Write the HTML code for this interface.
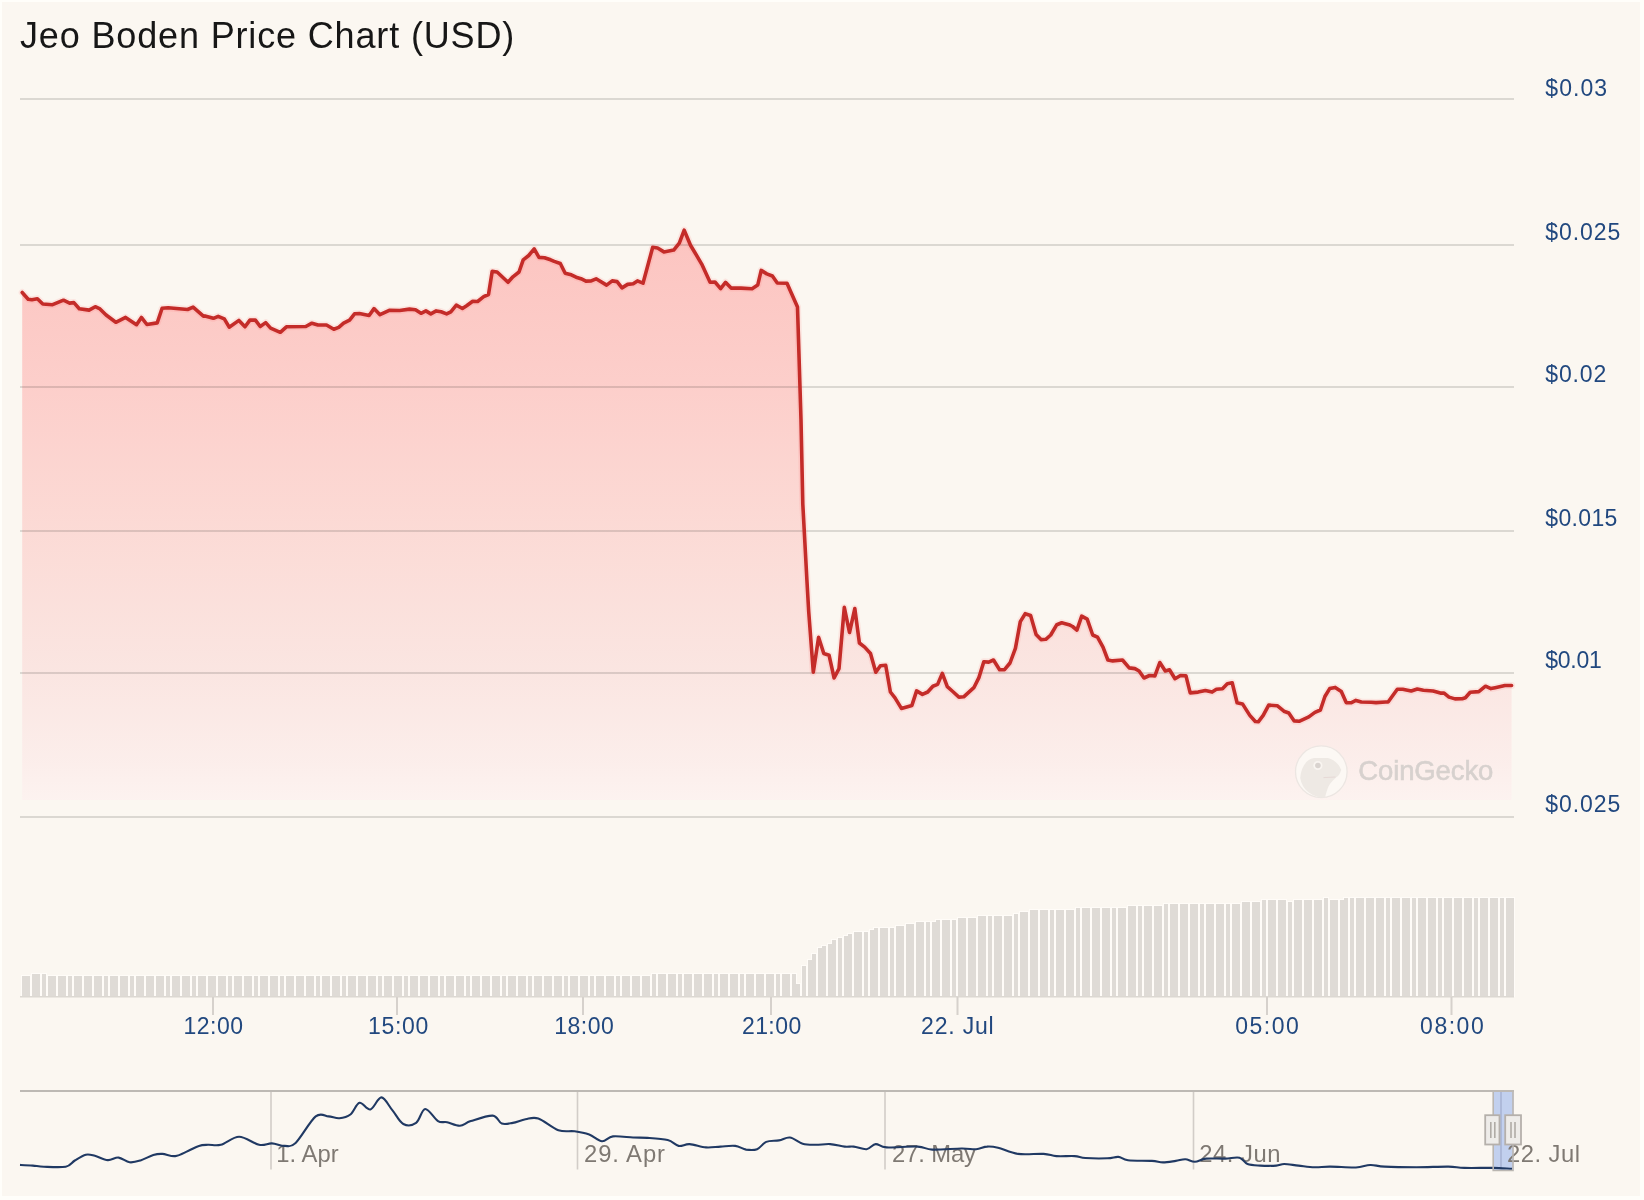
<!DOCTYPE html>
<html><head><meta charset="utf-8"><style>
html,body{margin:0;padding:0;background:#FBF7F1;}
body{width:1644px;height:1200px;position:relative;overflow:hidden;font-family:"Liberation Sans",sans-serif;}
#title{will-change:transform;position:absolute;left:20px;top:14px;font-size:36px;letter-spacing:0.85px;color:#171717;white-space:nowrap;line-height:44px;}
svg{position:absolute;left:0;top:0;will-change:transform;}
</style></head><body>
<div id="title">Jeo Boden Price Chart (USD)</div>
<svg width="1644" height="1200" viewBox="0 0 1644 1200" font-family="Liberation Sans, sans-serif">
<defs>
<linearGradient id="fillg" x1="0" y1="230" x2="0" y2="800" gradientUnits="userSpaceOnUse">
<stop offset="0" stop-color="#FF9391" stop-opacity="0.5"/>
<stop offset="0.275" stop-color="#FFA7A5" stop-opacity="0.5"/>
<stop offset="0.526" stop-color="#FDBFBB" stop-opacity="0.5"/>
<stop offset="0.777" stop-color="#FBD5D3" stop-opacity="0.5"/>
<stop offset="0.93" stop-color="#FDE5E5" stop-opacity="0.5"/>
<stop offset="1.0" stop-color="#FFEFEF" stop-opacity="0.5"/>
</linearGradient>
</defs>
<path d="M22.2 292.5 L28.2 299.2 L31.9 299.8 L37.4 298.8 L42.8 304 L52.6 304.7 L63.5 300.2 L69.6 303.1 L73.9 302.6 L79.3 308.7 L89.1 310.1 L95.2 306.7 L100 308.9 L106.1 315 L115.8 322.3 L125.6 317.4 L136.5 324.7 L141.4 317.4 L146.9 324.5 L157.2 322.9 L162.1 308.3 L168.2 307.7 L187.6 309.5 L193.1 307.1 L203.4 316.2 L204.9 315.9 L213.4 318.3 L218.2 316.3 L224.3 318.9 L229.2 327.2 L238.9 320.4 L245 326.8 L249.9 320.1 L255.4 320.1 L260.2 326.5 L265.7 322.6 L270.6 328.1 L280.3 332.3 L286.4 326.8 L305.8 326.5 L311.9 323.2 L318 325 L326.5 325 L333.8 329.3 L338.7 327.4 L343.6 323.2 L349.6 320.1 L354.5 313.8 L359.4 313.5 L369.1 315.5 L374 308.6 L380 314.7 L389.8 310.2 L399.7 310.5 L409.5 309.1 L415.5 309.7 L421 313.3 L425.9 310.9 L430.8 313.9 L436.2 310.9 L441.1 311.8 L446.6 313.9 L450.8 311.8 L456.3 305.2 L462.4 308.5 L466.6 305.7 L472.7 301.2 L477.6 301.5 L483.7 296.7 L488.5 294.5 L492.2 271.4 L497.1 272 L508 282.3 L512.9 276.8 L519 272 L523.2 259.8 L528.7 255.5 L534.2 248.9 L539 257.4 L544.5 257.7 L550.6 259.8 L554.2 261.4 L560.3 263.5 L565.2 273.2 L571.3 274.8 L576.1 277.2 L581 278.7 L585.9 281.1 L591.2 280.9 L596.1 278.8 L606.6 285.1 L612.2 280.9 L617.1 281.6 L622 287.9 L627.6 284.4 L633.2 283.7 L637.4 280.9 L643 283.2 L652.7 247.3 L657.6 248 L663.9 251.9 L673.7 250.1 L679.3 243.1 L684.2 230.1 L690.5 245.2 L694.7 252.2 L701.7 264.1 L710.1 282.3 L715 282 L720.6 288.6 L725.5 282.3 L731.1 288.1 L740.9 288.1 L752.1 288.8 L757.7 285.1 L761.2 270.4 L766.8 273.9 L772.4 276 L777.3 283 L787 283.2 L791.2 292.7 L797.5 307 L801 420 L802.8 504 L806.9 580 L808.7 611.5 L813.3 672.2 L818.6 637.2 L823.8 653.5 L829.1 655.3 L834.1 678 L839 668.7 L844.3 607.4 L849.5 632.5 L854.8 608.6 L859.4 643 L864.7 647.1 L870.5 653.5 L875.8 672.2 L880.4 665.8 L885.7 665.2 L890.4 692 L895 697.9 L901.4 708.4 L911.9 705.4 L916.6 690.9 L922.4 694.4 L927.7 692 L932.9 686.2 L937.6 684.4 L942.3 673.4 L947.3 686.7 L952.2 691 L958.9 697.1 L963.7 696.8 L974.1 687.3 L978.9 677.6 L983.8 661.8 L988.7 662.1 L993.5 660 L999.6 669.7 L1004.5 669.7 L1010 663 L1015.4 648.4 L1020.3 621.6 L1025.2 613.7 L1030.6 615.5 L1036.1 634.4 L1041 639.6 L1045.8 639.3 L1050.7 635 L1056.8 624.7 L1061.7 622.8 L1069 624.7 L1072.6 626.5 L1076.9 630.1 L1081.7 616.2 L1087.2 619.2 L1092.7 635 L1097.5 637.2 L1103 647.2 L1107.9 660 L1112.7 660.9 L1122.5 660 L1129.2 667.9 L1134.9 668.6 L1139.1 671 L1144 678 L1149.5 675.5 L1154.9 675.9 L1159.8 662.5 L1165.3 671 L1169.5 669.8 L1175 678.7 L1180.5 675.5 L1186 675.9 L1190.2 692.9 L1198.1 692.1 L1205.4 690.5 L1212.1 692.1 L1216.4 689.3 L1222.5 688.7 L1227.3 683.8 L1232.2 682.8 L1237.1 702.7 L1242.5 703.9 L1249.8 715.4 L1255.3 721.5 L1258.3 721.8 L1263.2 715.4 L1268.7 705.1 L1277.2 705.7 L1283.9 711.2 L1288.8 713 L1294.2 720.9 L1299.1 721.3 L1308.8 716.9 L1314.9 712.4 L1320.4 710 L1324.9 696.5 L1329.7 688.6 L1335.2 687.4 L1341.3 691.6 L1346.2 702.6 L1351 702.8 L1355.9 700.4 L1361.4 702 L1371.1 702.3 L1376 702.6 L1385.7 702 L1388.1 702 L1397.3 689.2 L1402.7 689.2 L1411.2 691 L1417.3 689 L1423.4 690.2 L1433.1 691 L1440.4 693.1 L1444.1 693.1 L1449 697.1 L1455 698.9 L1462.3 698.7 L1465.4 697.7 L1470.2 692.2 L1478.8 691.6 L1485.5 686.2 L1490.9 688.6 L1495.2 687.7 L1504.9 685.5 L1511.6 685.5 L1511.6 800 L22.2 800 Z" fill="url(#fillg)"/>
<g fill="#000" fill-opacity="0.124" shape-rendering="crispEdges"><rect x="20" y="98" width="1494" height="2"/><rect x="20" y="244" width="1494" height="2"/><rect x="20" y="386" width="1494" height="2"/><rect x="20" y="530" width="1494" height="2"/><rect x="20" y="672" width="1494" height="2"/><rect x="20" y="816" width="1494" height="2"/></g>
<g shape-rendering="crispEdges"><g fill="#FFFCF8"><rect x="21" y="975" width="6" height="22"/><rect x="25" y="975" width="6" height="22"/><rect x="31" y="973" width="6" height="24"/><rect x="35" y="973" width="6" height="24"/><rect x="41" y="973" width="6" height="24"/><rect x="47" y="975" width="6" height="22"/><rect x="51" y="975" width="6" height="22"/><rect x="57" y="975" width="6" height="22"/><rect x="61" y="975" width="6" height="22"/><rect x="67" y="975" width="6" height="22"/><rect x="73" y="975" width="6" height="22"/><rect x="77" y="975" width="6" height="22"/><rect x="83" y="975" width="6" height="22"/><rect x="87" y="975" width="6" height="22"/><rect x="93" y="975" width="6" height="22"/><rect x="97" y="975" width="6" height="22"/><rect x="103" y="975" width="6" height="22"/><rect x="109" y="975" width="6" height="22"/><rect x="113" y="975" width="6" height="22"/><rect x="119" y="975" width="6" height="22"/><rect x="123" y="975" width="6" height="22"/><rect x="129" y="975" width="6" height="22"/><rect x="135" y="975" width="6" height="22"/><rect x="139" y="975" width="6" height="22"/><rect x="145" y="975" width="6" height="22"/><rect x="149" y="975" width="6" height="22"/><rect x="155" y="975" width="6" height="22"/><rect x="159" y="975" width="6" height="22"/><rect x="165" y="975" width="6" height="22"/><rect x="171" y="975" width="6" height="22"/><rect x="175" y="975" width="6" height="22"/><rect x="181" y="975" width="6" height="22"/><rect x="185" y="975" width="6" height="22"/><rect x="191" y="975" width="6" height="22"/><rect x="197" y="975" width="6" height="22"/><rect x="201" y="975" width="6" height="22"/><rect x="207" y="975" width="6" height="22"/><rect x="211" y="975" width="6" height="22"/><rect x="217" y="975" width="6" height="22"/><rect x="221" y="975" width="6" height="22"/><rect x="227" y="975" width="6" height="22"/><rect x="233" y="975" width="6" height="22"/><rect x="237" y="975" width="6" height="22"/><rect x="243" y="975" width="6" height="22"/><rect x="247" y="975" width="6" height="22"/><rect x="253" y="975" width="6" height="22"/><rect x="259" y="975" width="6" height="22"/><rect x="263" y="975" width="6" height="22"/><rect x="269" y="975" width="6" height="22"/><rect x="273" y="975" width="6" height="22"/><rect x="279" y="975" width="6" height="22"/><rect x="285" y="975" width="6" height="22"/><rect x="289" y="975" width="6" height="22"/><rect x="295" y="975" width="6" height="22"/><rect x="299" y="975" width="6" height="22"/><rect x="305" y="975" width="6" height="22"/><rect x="309" y="975" width="6" height="22"/><rect x="315" y="975" width="6" height="22"/><rect x="321" y="975" width="6" height="22"/><rect x="325" y="975" width="6" height="22"/><rect x="331" y="975" width="6" height="22"/><rect x="335" y="975" width="6" height="22"/><rect x="341" y="975" width="6" height="22"/><rect x="347" y="975" width="6" height="22"/><rect x="351" y="975" width="6" height="22"/><rect x="357" y="975" width="6" height="22"/><rect x="361" y="975" width="6" height="22"/><rect x="367" y="975" width="6" height="22"/><rect x="371" y="975" width="6" height="22"/><rect x="377" y="975" width="6" height="22"/><rect x="383" y="975" width="6" height="22"/><rect x="387" y="975" width="6" height="22"/><rect x="393" y="975" width="6" height="22"/><rect x="397" y="975" width="6" height="22"/><rect x="403" y="975" width="6" height="22"/><rect x="409" y="975" width="6" height="22"/><rect x="413" y="975" width="6" height="22"/><rect x="419" y="975" width="6" height="22"/><rect x="423" y="975" width="6" height="22"/><rect x="429" y="975" width="6" height="22"/><rect x="433" y="975" width="6" height="22"/><rect x="439" y="975" width="6" height="22"/><rect x="445" y="975" width="6" height="22"/><rect x="449" y="975" width="6" height="22"/><rect x="455" y="975" width="6" height="22"/><rect x="459" y="975" width="6" height="22"/><rect x="465" y="975" width="6" height="22"/><rect x="471" y="975" width="6" height="22"/><rect x="475" y="975" width="6" height="22"/><rect x="481" y="975" width="6" height="22"/><rect x="485" y="975" width="6" height="22"/><rect x="491" y="975" width="6" height="22"/><rect x="495" y="975" width="6" height="22"/><rect x="501" y="975" width="6" height="22"/><rect x="507" y="975" width="6" height="22"/><rect x="511" y="975" width="6" height="22"/><rect x="517" y="975" width="6" height="22"/><rect x="521" y="975" width="6" height="22"/><rect x="527" y="975" width="6" height="22"/><rect x="533" y="975" width="6" height="22"/><rect x="537" y="975" width="6" height="22"/><rect x="543" y="975" width="6" height="22"/><rect x="547" y="975" width="6" height="22"/><rect x="553" y="975" width="6" height="22"/><rect x="557" y="975" width="6" height="22"/><rect x="563" y="975" width="6" height="22"/><rect x="569" y="975" width="6" height="22"/><rect x="573" y="975" width="6" height="22"/><rect x="579" y="975" width="6" height="22"/><rect x="583" y="975" width="6" height="22"/><rect x="589" y="975" width="6" height="22"/><rect x="595" y="975" width="6" height="22"/><rect x="599" y="975" width="6" height="22"/><rect x="605" y="975" width="6" height="22"/><rect x="609" y="975" width="6" height="22"/><rect x="615" y="975" width="6" height="22"/><rect x="621" y="975" width="6" height="22"/><rect x="625" y="975" width="6" height="22"/><rect x="631" y="975" width="6" height="22"/><rect x="635" y="975" width="6" height="22"/><rect x="641" y="975" width="6" height="22"/><rect x="645" y="975" width="6" height="22"/><rect x="651" y="973" width="6" height="24"/><rect x="657" y="973" width="6" height="24"/><rect x="661" y="973" width="6" height="24"/><rect x="667" y="973" width="6" height="24"/><rect x="671" y="973" width="6" height="24"/><rect x="677" y="973" width="6" height="24"/><rect x="683" y="973" width="6" height="24"/><rect x="687" y="973" width="6" height="24"/><rect x="693" y="973" width="6" height="24"/><rect x="697" y="973" width="6" height="24"/><rect x="703" y="973" width="6" height="24"/><rect x="707" y="973" width="6" height="24"/><rect x="713" y="973" width="6" height="24"/><rect x="719" y="973" width="6" height="24"/><rect x="723" y="973" width="6" height="24"/><rect x="729" y="973" width="6" height="24"/><rect x="733" y="973" width="6" height="24"/><rect x="739" y="973" width="6" height="24"/><rect x="745" y="973" width="6" height="24"/><rect x="749" y="973" width="6" height="24"/><rect x="755" y="973" width="6" height="24"/><rect x="759" y="973" width="6" height="24"/><rect x="765" y="973" width="6" height="24"/><rect x="769" y="973" width="6" height="24"/><rect x="775" y="973" width="6" height="24"/><rect x="781" y="973" width="6" height="24"/><rect x="785" y="973" width="6" height="24"/><rect x="791" y="973" width="6" height="24"/><rect x="795" y="983" width="6" height="14"/><rect x="801" y="965" width="6" height="32"/><rect x="807" y="959" width="6" height="38"/><rect x="811" y="953" width="6" height="44"/><rect x="817" y="947" width="6" height="50"/><rect x="821" y="945" width="6" height="52"/><rect x="827" y="943" width="6" height="54"/><rect x="831" y="939" width="6" height="58"/><rect x="837" y="937" width="6" height="60"/><rect x="843" y="935" width="6" height="62"/><rect x="847" y="933" width="6" height="64"/><rect x="853" y="931" width="6" height="66"/><rect x="857" y="931" width="6" height="66"/><rect x="863" y="931" width="6" height="66"/><rect x="869" y="929" width="6" height="68"/><rect x="873" y="927" width="6" height="70"/><rect x="879" y="927" width="6" height="70"/><rect x="883" y="927" width="6" height="70"/><rect x="889" y="927" width="6" height="70"/><rect x="895" y="925" width="6" height="72"/><rect x="899" y="925" width="6" height="72"/><rect x="905" y="923" width="6" height="74"/><rect x="909" y="923" width="6" height="74"/><rect x="915" y="921" width="6" height="76"/><rect x="919" y="921" width="6" height="76"/><rect x="925" y="921" width="6" height="76"/><rect x="931" y="921" width="6" height="76"/><rect x="935" y="919" width="6" height="78"/><rect x="941" y="919" width="6" height="78"/><rect x="945" y="919" width="6" height="78"/><rect x="951" y="919" width="6" height="78"/><rect x="957" y="917" width="6" height="80"/><rect x="961" y="917" width="6" height="80"/><rect x="967" y="917" width="6" height="80"/><rect x="971" y="917" width="6" height="80"/><rect x="977" y="915" width="6" height="82"/><rect x="981" y="915" width="6" height="82"/><rect x="987" y="915" width="6" height="82"/><rect x="993" y="915" width="6" height="82"/><rect x="997" y="915" width="6" height="82"/><rect x="1003" y="915" width="6" height="82"/><rect x="1007" y="915" width="6" height="82"/><rect x="1013" y="913" width="6" height="84"/><rect x="1019" y="911" width="6" height="86"/><rect x="1023" y="911" width="6" height="86"/><rect x="1029" y="909" width="6" height="88"/><rect x="1033" y="909" width="6" height="88"/><rect x="1039" y="909" width="6" height="88"/><rect x="1043" y="909" width="6" height="88"/><rect x="1049" y="909" width="6" height="88"/><rect x="1055" y="909" width="6" height="88"/><rect x="1059" y="909" width="6" height="88"/><rect x="1065" y="909" width="6" height="88"/><rect x="1069" y="909" width="6" height="88"/><rect x="1075" y="907" width="6" height="90"/><rect x="1081" y="907" width="6" height="90"/><rect x="1085" y="907" width="6" height="90"/><rect x="1091" y="907" width="6" height="90"/><rect x="1095" y="907" width="6" height="90"/><rect x="1101" y="907" width="6" height="90"/><rect x="1105" y="907" width="6" height="90"/><rect x="1111" y="907" width="6" height="90"/><rect x="1117" y="907" width="6" height="90"/><rect x="1121" y="907" width="6" height="90"/><rect x="1127" y="905" width="6" height="92"/><rect x="1131" y="905" width="6" height="92"/><rect x="1137" y="905" width="6" height="92"/><rect x="1143" y="905" width="6" height="92"/><rect x="1147" y="905" width="6" height="92"/><rect x="1153" y="905" width="6" height="92"/><rect x="1157" y="905" width="6" height="92"/><rect x="1163" y="903" width="6" height="94"/><rect x="1169" y="903" width="6" height="94"/><rect x="1173" y="903" width="6" height="94"/><rect x="1179" y="903" width="6" height="94"/><rect x="1183" y="903" width="6" height="94"/><rect x="1189" y="903" width="6" height="94"/><rect x="1193" y="903" width="6" height="94"/><rect x="1199" y="903" width="6" height="94"/><rect x="1205" y="903" width="6" height="94"/><rect x="1209" y="903" width="6" height="94"/><rect x="1215" y="903" width="6" height="94"/><rect x="1219" y="903" width="6" height="94"/><rect x="1225" y="903" width="6" height="94"/><rect x="1231" y="903" width="6" height="94"/><rect x="1235" y="903" width="6" height="94"/><rect x="1241" y="901" width="6" height="96"/><rect x="1245" y="901" width="6" height="96"/><rect x="1251" y="901" width="6" height="96"/><rect x="1255" y="901" width="6" height="96"/><rect x="1261" y="899" width="6" height="98"/><rect x="1267" y="899" width="6" height="98"/><rect x="1271" y="899" width="6" height="98"/><rect x="1277" y="899" width="6" height="98"/><rect x="1281" y="899" width="6" height="98"/><rect x="1287" y="901" width="6" height="96"/><rect x="1293" y="899" width="6" height="98"/><rect x="1297" y="899" width="6" height="98"/><rect x="1303" y="899" width="6" height="98"/><rect x="1307" y="899" width="6" height="98"/><rect x="1313" y="899" width="6" height="98"/><rect x="1317" y="899" width="6" height="98"/><rect x="1323" y="897" width="6" height="100"/><rect x="1329" y="899" width="6" height="98"/><rect x="1333" y="899" width="6" height="98"/><rect x="1339" y="899" width="6" height="98"/><rect x="1343" y="897" width="6" height="100"/><rect x="1349" y="897" width="6" height="100"/><rect x="1355" y="897" width="6" height="100"/><rect x="1359" y="897" width="6" height="100"/><rect x="1365" y="897" width="6" height="100"/><rect x="1369" y="897" width="6" height="100"/><rect x="1375" y="897" width="6" height="100"/><rect x="1379" y="897" width="6" height="100"/><rect x="1385" y="897" width="6" height="100"/><rect x="1391" y="897" width="6" height="100"/><rect x="1395" y="897" width="6" height="100"/><rect x="1401" y="897" width="6" height="100"/><rect x="1405" y="897" width="6" height="100"/><rect x="1411" y="897" width="6" height="100"/><rect x="1417" y="897" width="6" height="100"/><rect x="1421" y="897" width="6" height="100"/><rect x="1427" y="897" width="6" height="100"/><rect x="1431" y="897" width="6" height="100"/><rect x="1437" y="897" width="6" height="100"/><rect x="1443" y="897" width="6" height="100"/><rect x="1447" y="897" width="6" height="100"/><rect x="1453" y="897" width="6" height="100"/><rect x="1457" y="897" width="6" height="100"/><rect x="1463" y="897" width="6" height="100"/><rect x="1467" y="897" width="6" height="100"/><rect x="1473" y="897" width="6" height="100"/><rect x="1479" y="897" width="6" height="100"/><rect x="1483" y="897" width="6" height="100"/><rect x="1489" y="897" width="6" height="100"/><rect x="1493" y="897" width="6" height="100"/><rect x="1499" y="897" width="6" height="100"/><rect x="1505" y="897" width="6" height="100"/><rect x="1509" y="897" width="6" height="100"/></g><g fill="#DFDBD6"><rect x="22" y="976" width="4" height="21"/><rect x="26" y="976" width="4" height="21"/><rect x="32" y="974" width="4" height="23"/><rect x="36" y="974" width="4" height="23"/><rect x="42" y="974" width="4" height="23"/><rect x="48" y="976" width="4" height="21"/><rect x="52" y="976" width="4" height="21"/><rect x="58" y="976" width="4" height="21"/><rect x="62" y="976" width="4" height="21"/><rect x="68" y="976" width="4" height="21"/><rect x="74" y="976" width="4" height="21"/><rect x="78" y="976" width="4" height="21"/><rect x="84" y="976" width="4" height="21"/><rect x="88" y="976" width="4" height="21"/><rect x="94" y="976" width="4" height="21"/><rect x="98" y="976" width="4" height="21"/><rect x="104" y="976" width="4" height="21"/><rect x="110" y="976" width="4" height="21"/><rect x="114" y="976" width="4" height="21"/><rect x="120" y="976" width="4" height="21"/><rect x="124" y="976" width="4" height="21"/><rect x="130" y="976" width="4" height="21"/><rect x="136" y="976" width="4" height="21"/><rect x="140" y="976" width="4" height="21"/><rect x="146" y="976" width="4" height="21"/><rect x="150" y="976" width="4" height="21"/><rect x="156" y="976" width="4" height="21"/><rect x="160" y="976" width="4" height="21"/><rect x="166" y="976" width="4" height="21"/><rect x="172" y="976" width="4" height="21"/><rect x="176" y="976" width="4" height="21"/><rect x="182" y="976" width="4" height="21"/><rect x="186" y="976" width="4" height="21"/><rect x="192" y="976" width="4" height="21"/><rect x="198" y="976" width="4" height="21"/><rect x="202" y="976" width="4" height="21"/><rect x="208" y="976" width="4" height="21"/><rect x="212" y="976" width="4" height="21"/><rect x="218" y="976" width="4" height="21"/><rect x="222" y="976" width="4" height="21"/><rect x="228" y="976" width="4" height="21"/><rect x="234" y="976" width="4" height="21"/><rect x="238" y="976" width="4" height="21"/><rect x="244" y="976" width="4" height="21"/><rect x="248" y="976" width="4" height="21"/><rect x="254" y="976" width="4" height="21"/><rect x="260" y="976" width="4" height="21"/><rect x="264" y="976" width="4" height="21"/><rect x="270" y="976" width="4" height="21"/><rect x="274" y="976" width="4" height="21"/><rect x="280" y="976" width="4" height="21"/><rect x="286" y="976" width="4" height="21"/><rect x="290" y="976" width="4" height="21"/><rect x="296" y="976" width="4" height="21"/><rect x="300" y="976" width="4" height="21"/><rect x="306" y="976" width="4" height="21"/><rect x="310" y="976" width="4" height="21"/><rect x="316" y="976" width="4" height="21"/><rect x="322" y="976" width="4" height="21"/><rect x="326" y="976" width="4" height="21"/><rect x="332" y="976" width="4" height="21"/><rect x="336" y="976" width="4" height="21"/><rect x="342" y="976" width="4" height="21"/><rect x="348" y="976" width="4" height="21"/><rect x="352" y="976" width="4" height="21"/><rect x="358" y="976" width="4" height="21"/><rect x="362" y="976" width="4" height="21"/><rect x="368" y="976" width="4" height="21"/><rect x="372" y="976" width="4" height="21"/><rect x="378" y="976" width="4" height="21"/><rect x="384" y="976" width="4" height="21"/><rect x="388" y="976" width="4" height="21"/><rect x="394" y="976" width="4" height="21"/><rect x="398" y="976" width="4" height="21"/><rect x="404" y="976" width="4" height="21"/><rect x="410" y="976" width="4" height="21"/><rect x="414" y="976" width="4" height="21"/><rect x="420" y="976" width="4" height="21"/><rect x="424" y="976" width="4" height="21"/><rect x="430" y="976" width="4" height="21"/><rect x="434" y="976" width="4" height="21"/><rect x="440" y="976" width="4" height="21"/><rect x="446" y="976" width="4" height="21"/><rect x="450" y="976" width="4" height="21"/><rect x="456" y="976" width="4" height="21"/><rect x="460" y="976" width="4" height="21"/><rect x="466" y="976" width="4" height="21"/><rect x="472" y="976" width="4" height="21"/><rect x="476" y="976" width="4" height="21"/><rect x="482" y="976" width="4" height="21"/><rect x="486" y="976" width="4" height="21"/><rect x="492" y="976" width="4" height="21"/><rect x="496" y="976" width="4" height="21"/><rect x="502" y="976" width="4" height="21"/><rect x="508" y="976" width="4" height="21"/><rect x="512" y="976" width="4" height="21"/><rect x="518" y="976" width="4" height="21"/><rect x="522" y="976" width="4" height="21"/><rect x="528" y="976" width="4" height="21"/><rect x="534" y="976" width="4" height="21"/><rect x="538" y="976" width="4" height="21"/><rect x="544" y="976" width="4" height="21"/><rect x="548" y="976" width="4" height="21"/><rect x="554" y="976" width="4" height="21"/><rect x="558" y="976" width="4" height="21"/><rect x="564" y="976" width="4" height="21"/><rect x="570" y="976" width="4" height="21"/><rect x="574" y="976" width="4" height="21"/><rect x="580" y="976" width="4" height="21"/><rect x="584" y="976" width="4" height="21"/><rect x="590" y="976" width="4" height="21"/><rect x="596" y="976" width="4" height="21"/><rect x="600" y="976" width="4" height="21"/><rect x="606" y="976" width="4" height="21"/><rect x="610" y="976" width="4" height="21"/><rect x="616" y="976" width="4" height="21"/><rect x="622" y="976" width="4" height="21"/><rect x="626" y="976" width="4" height="21"/><rect x="632" y="976" width="4" height="21"/><rect x="636" y="976" width="4" height="21"/><rect x="642" y="976" width="4" height="21"/><rect x="646" y="976" width="4" height="21"/><rect x="652" y="974" width="4" height="23"/><rect x="658" y="974" width="4" height="23"/><rect x="662" y="974" width="4" height="23"/><rect x="668" y="974" width="4" height="23"/><rect x="672" y="974" width="4" height="23"/><rect x="678" y="974" width="4" height="23"/><rect x="684" y="974" width="4" height="23"/><rect x="688" y="974" width="4" height="23"/><rect x="694" y="974" width="4" height="23"/><rect x="698" y="974" width="4" height="23"/><rect x="704" y="974" width="4" height="23"/><rect x="708" y="974" width="4" height="23"/><rect x="714" y="974" width="4" height="23"/><rect x="720" y="974" width="4" height="23"/><rect x="724" y="974" width="4" height="23"/><rect x="730" y="974" width="4" height="23"/><rect x="734" y="974" width="4" height="23"/><rect x="740" y="974" width="4" height="23"/><rect x="746" y="974" width="4" height="23"/><rect x="750" y="974" width="4" height="23"/><rect x="756" y="974" width="4" height="23"/><rect x="760" y="974" width="4" height="23"/><rect x="766" y="974" width="4" height="23"/><rect x="770" y="974" width="4" height="23"/><rect x="776" y="974" width="4" height="23"/><rect x="782" y="974" width="4" height="23"/><rect x="786" y="974" width="4" height="23"/><rect x="792" y="974" width="4" height="23"/><rect x="796" y="984" width="4" height="13"/><rect x="802" y="966" width="4" height="31"/><rect x="808" y="960" width="4" height="37"/><rect x="812" y="954" width="4" height="43"/><rect x="818" y="948" width="4" height="49"/><rect x="822" y="946" width="4" height="51"/><rect x="828" y="944" width="4" height="53"/><rect x="832" y="940" width="4" height="57"/><rect x="838" y="938" width="4" height="59"/><rect x="844" y="936" width="4" height="61"/><rect x="848" y="934" width="4" height="63"/><rect x="854" y="932" width="4" height="65"/><rect x="858" y="932" width="4" height="65"/><rect x="864" y="932" width="4" height="65"/><rect x="870" y="930" width="4" height="67"/><rect x="874" y="928" width="4" height="69"/><rect x="880" y="928" width="4" height="69"/><rect x="884" y="928" width="4" height="69"/><rect x="890" y="928" width="4" height="69"/><rect x="896" y="926" width="4" height="71"/><rect x="900" y="926" width="4" height="71"/><rect x="906" y="924" width="4" height="73"/><rect x="910" y="924" width="4" height="73"/><rect x="916" y="922" width="4" height="75"/><rect x="920" y="922" width="4" height="75"/><rect x="926" y="922" width="4" height="75"/><rect x="932" y="922" width="4" height="75"/><rect x="936" y="920" width="4" height="77"/><rect x="942" y="920" width="4" height="77"/><rect x="946" y="920" width="4" height="77"/><rect x="952" y="920" width="4" height="77"/><rect x="958" y="918" width="4" height="79"/><rect x="962" y="918" width="4" height="79"/><rect x="968" y="918" width="4" height="79"/><rect x="972" y="918" width="4" height="79"/><rect x="978" y="916" width="4" height="81"/><rect x="982" y="916" width="4" height="81"/><rect x="988" y="916" width="4" height="81"/><rect x="994" y="916" width="4" height="81"/><rect x="998" y="916" width="4" height="81"/><rect x="1004" y="916" width="4" height="81"/><rect x="1008" y="916" width="4" height="81"/><rect x="1014" y="914" width="4" height="83"/><rect x="1020" y="912" width="4" height="85"/><rect x="1024" y="912" width="4" height="85"/><rect x="1030" y="910" width="4" height="87"/><rect x="1034" y="910" width="4" height="87"/><rect x="1040" y="910" width="4" height="87"/><rect x="1044" y="910" width="4" height="87"/><rect x="1050" y="910" width="4" height="87"/><rect x="1056" y="910" width="4" height="87"/><rect x="1060" y="910" width="4" height="87"/><rect x="1066" y="910" width="4" height="87"/><rect x="1070" y="910" width="4" height="87"/><rect x="1076" y="908" width="4" height="89"/><rect x="1082" y="908" width="4" height="89"/><rect x="1086" y="908" width="4" height="89"/><rect x="1092" y="908" width="4" height="89"/><rect x="1096" y="908" width="4" height="89"/><rect x="1102" y="908" width="4" height="89"/><rect x="1106" y="908" width="4" height="89"/><rect x="1112" y="908" width="4" height="89"/><rect x="1118" y="908" width="4" height="89"/><rect x="1122" y="908" width="4" height="89"/><rect x="1128" y="906" width="4" height="91"/><rect x="1132" y="906" width="4" height="91"/><rect x="1138" y="906" width="4" height="91"/><rect x="1144" y="906" width="4" height="91"/><rect x="1148" y="906" width="4" height="91"/><rect x="1154" y="906" width="4" height="91"/><rect x="1158" y="906" width="4" height="91"/><rect x="1164" y="904" width="4" height="93"/><rect x="1170" y="904" width="4" height="93"/><rect x="1174" y="904" width="4" height="93"/><rect x="1180" y="904" width="4" height="93"/><rect x="1184" y="904" width="4" height="93"/><rect x="1190" y="904" width="4" height="93"/><rect x="1194" y="904" width="4" height="93"/><rect x="1200" y="904" width="4" height="93"/><rect x="1206" y="904" width="4" height="93"/><rect x="1210" y="904" width="4" height="93"/><rect x="1216" y="904" width="4" height="93"/><rect x="1220" y="904" width="4" height="93"/><rect x="1226" y="904" width="4" height="93"/><rect x="1232" y="904" width="4" height="93"/><rect x="1236" y="904" width="4" height="93"/><rect x="1242" y="902" width="4" height="95"/><rect x="1246" y="902" width="4" height="95"/><rect x="1252" y="902" width="4" height="95"/><rect x="1256" y="902" width="4" height="95"/><rect x="1262" y="900" width="4" height="97"/><rect x="1268" y="900" width="4" height="97"/><rect x="1272" y="900" width="4" height="97"/><rect x="1278" y="900" width="4" height="97"/><rect x="1282" y="900" width="4" height="97"/><rect x="1288" y="902" width="4" height="95"/><rect x="1294" y="900" width="4" height="97"/><rect x="1298" y="900" width="4" height="97"/><rect x="1304" y="900" width="4" height="97"/><rect x="1308" y="900" width="4" height="97"/><rect x="1314" y="900" width="4" height="97"/><rect x="1318" y="900" width="4" height="97"/><rect x="1324" y="898" width="4" height="99"/><rect x="1330" y="900" width="4" height="97"/><rect x="1334" y="900" width="4" height="97"/><rect x="1340" y="900" width="4" height="97"/><rect x="1344" y="898" width="4" height="99"/><rect x="1350" y="898" width="4" height="99"/><rect x="1356" y="898" width="4" height="99"/><rect x="1360" y="898" width="4" height="99"/><rect x="1366" y="898" width="4" height="99"/><rect x="1370" y="898" width="4" height="99"/><rect x="1376" y="898" width="4" height="99"/><rect x="1380" y="898" width="4" height="99"/><rect x="1386" y="898" width="4" height="99"/><rect x="1392" y="898" width="4" height="99"/><rect x="1396" y="898" width="4" height="99"/><rect x="1402" y="898" width="4" height="99"/><rect x="1406" y="898" width="4" height="99"/><rect x="1412" y="898" width="4" height="99"/><rect x="1418" y="898" width="4" height="99"/><rect x="1422" y="898" width="4" height="99"/><rect x="1428" y="898" width="4" height="99"/><rect x="1432" y="898" width="4" height="99"/><rect x="1438" y="898" width="4" height="99"/><rect x="1444" y="898" width="4" height="99"/><rect x="1448" y="898" width="4" height="99"/><rect x="1454" y="898" width="4" height="99"/><rect x="1458" y="898" width="4" height="99"/><rect x="1464" y="898" width="4" height="99"/><rect x="1468" y="898" width="4" height="99"/><rect x="1474" y="898" width="4" height="99"/><rect x="1480" y="898" width="4" height="99"/><rect x="1484" y="898" width="4" height="99"/><rect x="1490" y="898" width="4" height="99"/><rect x="1494" y="898" width="4" height="99"/><rect x="1500" y="898" width="4" height="99"/><rect x="1506" y="898" width="4" height="99"/><rect x="1510" y="898" width="4" height="99"/></g></g>
<rect x="20" y="996" width="1494" height="1.5" fill="#DCD8D2"/>
<g fill="#D6D1CC"><rect x="212" y="997" width="2" height="18"/><rect x="396" y="997" width="2" height="18"/><rect x="582" y="997" width="2" height="18"/><rect x="770" y="997" width="2" height="18"/><rect x="956.5" y="997" width="2" height="18"/><rect x="1266" y="997" width="2" height="18"/><rect x="1450.5" y="997" width="2" height="18"/></g>
<!-- watermark -->
<g>
<circle cx="1321.3" cy="771.7" r="25.8" fill="#FCF8F4" stroke="#ECE6E2" stroke-width="1.3"/>
<path d="M1300.2 778 C1301 768 1305.5 759.5 1314 758 L1328 758 C1334 759.5 1339 764 1341.2 770 C1340 774 1338 776.5 1336 777.5 C1332 781 1328.5 785 1327.5 789 C1326.5 792 1325.5 795 1325.2 797.3 A23 23 0 0 1 1300.2 778 Z" fill="#EEE9E4"/>
<path d="M1323.5 777.6 L1335.5 777" stroke="#E6D9D6" stroke-width="1" fill="none"/>
<circle cx="1317.9" cy="765.5" r="4.6" fill="#F9F5F1"/>
<circle cx="1317.9" cy="765.5" r="2.8" fill="#D9D3CF"/>
<text x="1358.3" y="779.7" font-size="27.5" fill="#D7D1CE" stroke="#D7D1CE" stroke-width="0.6" textLength="135" lengthAdjust="spacing">CoinGecko</text>
</g>
<path d="M22.2 292.5 L28.2 299.2 L31.9 299.8 L37.4 298.8 L42.8 304 L52.6 304.7 L63.5 300.2 L69.6 303.1 L73.9 302.6 L79.3 308.7 L89.1 310.1 L95.2 306.7 L100 308.9 L106.1 315 L115.8 322.3 L125.6 317.4 L136.5 324.7 L141.4 317.4 L146.9 324.5 L157.2 322.9 L162.1 308.3 L168.2 307.7 L187.6 309.5 L193.1 307.1 L203.4 316.2 L204.9 315.9 L213.4 318.3 L218.2 316.3 L224.3 318.9 L229.2 327.2 L238.9 320.4 L245 326.8 L249.9 320.1 L255.4 320.1 L260.2 326.5 L265.7 322.6 L270.6 328.1 L280.3 332.3 L286.4 326.8 L305.8 326.5 L311.9 323.2 L318 325 L326.5 325 L333.8 329.3 L338.7 327.4 L343.6 323.2 L349.6 320.1 L354.5 313.8 L359.4 313.5 L369.1 315.5 L374 308.6 L380 314.7 L389.8 310.2 L399.7 310.5 L409.5 309.1 L415.5 309.7 L421 313.3 L425.9 310.9 L430.8 313.9 L436.2 310.9 L441.1 311.8 L446.6 313.9 L450.8 311.8 L456.3 305.2 L462.4 308.5 L466.6 305.7 L472.7 301.2 L477.6 301.5 L483.7 296.7 L488.5 294.5 L492.2 271.4 L497.1 272 L508 282.3 L512.9 276.8 L519 272 L523.2 259.8 L528.7 255.5 L534.2 248.9 L539 257.4 L544.5 257.7 L550.6 259.8 L554.2 261.4 L560.3 263.5 L565.2 273.2 L571.3 274.8 L576.1 277.2 L581 278.7 L585.9 281.1 L591.2 280.9 L596.1 278.8 L606.6 285.1 L612.2 280.9 L617.1 281.6 L622 287.9 L627.6 284.4 L633.2 283.7 L637.4 280.9 L643 283.2 L652.7 247.3 L657.6 248 L663.9 251.9 L673.7 250.1 L679.3 243.1 L684.2 230.1 L690.5 245.2 L694.7 252.2 L701.7 264.1 L710.1 282.3 L715 282 L720.6 288.6 L725.5 282.3 L731.1 288.1 L740.9 288.1 L752.1 288.8 L757.7 285.1 L761.2 270.4 L766.8 273.9 L772.4 276 L777.3 283 L787 283.2 L791.2 292.7 L797.5 307 L801 420 L802.8 504 L806.9 580 L808.7 611.5 L813.3 672.2 L818.6 637.2 L823.8 653.5 L829.1 655.3 L834.1 678 L839 668.7 L844.3 607.4 L849.5 632.5 L854.8 608.6 L859.4 643 L864.7 647.1 L870.5 653.5 L875.8 672.2 L880.4 665.8 L885.7 665.2 L890.4 692 L895 697.9 L901.4 708.4 L911.9 705.4 L916.6 690.9 L922.4 694.4 L927.7 692 L932.9 686.2 L937.6 684.4 L942.3 673.4 L947.3 686.7 L952.2 691 L958.9 697.1 L963.7 696.8 L974.1 687.3 L978.9 677.6 L983.8 661.8 L988.7 662.1 L993.5 660 L999.6 669.7 L1004.5 669.7 L1010 663 L1015.4 648.4 L1020.3 621.6 L1025.2 613.7 L1030.6 615.5 L1036.1 634.4 L1041 639.6 L1045.8 639.3 L1050.7 635 L1056.8 624.7 L1061.7 622.8 L1069 624.7 L1072.6 626.5 L1076.9 630.1 L1081.7 616.2 L1087.2 619.2 L1092.7 635 L1097.5 637.2 L1103 647.2 L1107.9 660 L1112.7 660.9 L1122.5 660 L1129.2 667.9 L1134.9 668.6 L1139.1 671 L1144 678 L1149.5 675.5 L1154.9 675.9 L1159.8 662.5 L1165.3 671 L1169.5 669.8 L1175 678.7 L1180.5 675.5 L1186 675.9 L1190.2 692.9 L1198.1 692.1 L1205.4 690.5 L1212.1 692.1 L1216.4 689.3 L1222.5 688.7 L1227.3 683.8 L1232.2 682.8 L1237.1 702.7 L1242.5 703.9 L1249.8 715.4 L1255.3 721.5 L1258.3 721.8 L1263.2 715.4 L1268.7 705.1 L1277.2 705.7 L1283.9 711.2 L1288.8 713 L1294.2 720.9 L1299.1 721.3 L1308.8 716.9 L1314.9 712.4 L1320.4 710 L1324.9 696.5 L1329.7 688.6 L1335.2 687.4 L1341.3 691.6 L1346.2 702.6 L1351 702.8 L1355.9 700.4 L1361.4 702 L1371.1 702.3 L1376 702.6 L1385.7 702 L1388.1 702 L1397.3 689.2 L1402.7 689.2 L1411.2 691 L1417.3 689 L1423.4 690.2 L1433.1 691 L1440.4 693.1 L1444.1 693.1 L1449 697.1 L1455 698.9 L1462.3 698.7 L1465.4 697.7 L1470.2 692.2 L1478.8 691.6 L1485.5 686.2 L1490.9 688.6 L1495.2 687.7 L1504.9 685.5 L1511.6 685.5" fill="none" stroke="#FF5050" stroke-opacity="0.1" stroke-width="7" stroke-linejoin="round" stroke-linecap="round"/>
<path d="M22.2 292.5 L28.2 299.2 L31.9 299.8 L37.4 298.8 L42.8 304 L52.6 304.7 L63.5 300.2 L69.6 303.1 L73.9 302.6 L79.3 308.7 L89.1 310.1 L95.2 306.7 L100 308.9 L106.1 315 L115.8 322.3 L125.6 317.4 L136.5 324.7 L141.4 317.4 L146.9 324.5 L157.2 322.9 L162.1 308.3 L168.2 307.7 L187.6 309.5 L193.1 307.1 L203.4 316.2 L204.9 315.9 L213.4 318.3 L218.2 316.3 L224.3 318.9 L229.2 327.2 L238.9 320.4 L245 326.8 L249.9 320.1 L255.4 320.1 L260.2 326.5 L265.7 322.6 L270.6 328.1 L280.3 332.3 L286.4 326.8 L305.8 326.5 L311.9 323.2 L318 325 L326.5 325 L333.8 329.3 L338.7 327.4 L343.6 323.2 L349.6 320.1 L354.5 313.8 L359.4 313.5 L369.1 315.5 L374 308.6 L380 314.7 L389.8 310.2 L399.7 310.5 L409.5 309.1 L415.5 309.7 L421 313.3 L425.9 310.9 L430.8 313.9 L436.2 310.9 L441.1 311.8 L446.6 313.9 L450.8 311.8 L456.3 305.2 L462.4 308.5 L466.6 305.7 L472.7 301.2 L477.6 301.5 L483.7 296.7 L488.5 294.5 L492.2 271.4 L497.1 272 L508 282.3 L512.9 276.8 L519 272 L523.2 259.8 L528.7 255.5 L534.2 248.9 L539 257.4 L544.5 257.7 L550.6 259.8 L554.2 261.4 L560.3 263.5 L565.2 273.2 L571.3 274.8 L576.1 277.2 L581 278.7 L585.9 281.1 L591.2 280.9 L596.1 278.8 L606.6 285.1 L612.2 280.9 L617.1 281.6 L622 287.9 L627.6 284.4 L633.2 283.7 L637.4 280.9 L643 283.2 L652.7 247.3 L657.6 248 L663.9 251.9 L673.7 250.1 L679.3 243.1 L684.2 230.1 L690.5 245.2 L694.7 252.2 L701.7 264.1 L710.1 282.3 L715 282 L720.6 288.6 L725.5 282.3 L731.1 288.1 L740.9 288.1 L752.1 288.8 L757.7 285.1 L761.2 270.4 L766.8 273.9 L772.4 276 L777.3 283 L787 283.2 L791.2 292.7 L797.5 307 L801 420 L802.8 504 L806.9 580 L808.7 611.5 L813.3 672.2 L818.6 637.2 L823.8 653.5 L829.1 655.3 L834.1 678 L839 668.7 L844.3 607.4 L849.5 632.5 L854.8 608.6 L859.4 643 L864.7 647.1 L870.5 653.5 L875.8 672.2 L880.4 665.8 L885.7 665.2 L890.4 692 L895 697.9 L901.4 708.4 L911.9 705.4 L916.6 690.9 L922.4 694.4 L927.7 692 L932.9 686.2 L937.6 684.4 L942.3 673.4 L947.3 686.7 L952.2 691 L958.9 697.1 L963.7 696.8 L974.1 687.3 L978.9 677.6 L983.8 661.8 L988.7 662.1 L993.5 660 L999.6 669.7 L1004.5 669.7 L1010 663 L1015.4 648.4 L1020.3 621.6 L1025.2 613.7 L1030.6 615.5 L1036.1 634.4 L1041 639.6 L1045.8 639.3 L1050.7 635 L1056.8 624.7 L1061.7 622.8 L1069 624.7 L1072.6 626.5 L1076.9 630.1 L1081.7 616.2 L1087.2 619.2 L1092.7 635 L1097.5 637.2 L1103 647.2 L1107.9 660 L1112.7 660.9 L1122.5 660 L1129.2 667.9 L1134.9 668.6 L1139.1 671 L1144 678 L1149.5 675.5 L1154.9 675.9 L1159.8 662.5 L1165.3 671 L1169.5 669.8 L1175 678.7 L1180.5 675.5 L1186 675.9 L1190.2 692.9 L1198.1 692.1 L1205.4 690.5 L1212.1 692.1 L1216.4 689.3 L1222.5 688.7 L1227.3 683.8 L1232.2 682.8 L1237.1 702.7 L1242.5 703.9 L1249.8 715.4 L1255.3 721.5 L1258.3 721.8 L1263.2 715.4 L1268.7 705.1 L1277.2 705.7 L1283.9 711.2 L1288.8 713 L1294.2 720.9 L1299.1 721.3 L1308.8 716.9 L1314.9 712.4 L1320.4 710 L1324.9 696.5 L1329.7 688.6 L1335.2 687.4 L1341.3 691.6 L1346.2 702.6 L1351 702.8 L1355.9 700.4 L1361.4 702 L1371.1 702.3 L1376 702.6 L1385.7 702 L1388.1 702 L1397.3 689.2 L1402.7 689.2 L1411.2 691 L1417.3 689 L1423.4 690.2 L1433.1 691 L1440.4 693.1 L1444.1 693.1 L1449 697.1 L1455 698.9 L1462.3 698.7 L1465.4 697.7 L1470.2 692.2 L1478.8 691.6 L1485.5 686.2 L1490.9 688.6 L1495.2 687.7 L1504.9 685.5 L1511.6 685.5" fill="none" stroke="#C42C29" stroke-width="3.6" stroke-linejoin="round" stroke-linecap="round"/>
<g font-size="23" fill="#21487F"><text x="1545.3" y="95.8" textLength="61.7" lengthAdjust="spacing">$0.03</text><text x="1545.3" y="239.6" textLength="74.9" lengthAdjust="spacing">$0.025</text><text x="1545.3" y="381.7" textLength="61" lengthAdjust="spacing">$0.02</text><text x="1545.3" y="525.6" textLength="72" lengthAdjust="spacing">$0.015</text><text x="1545.3" y="667.7" textLength="56.5" lengthAdjust="spacing">$0.01</text><text x="1545.3" y="811.7" textLength="74.9" lengthAdjust="spacing">$0.025</text></g>
<g font-size="23" fill="#21487F"><text x="183.5" y="1034" textLength="59.5" lengthAdjust="spacing">12:00</text><text x="368" y="1034" textLength="60.3" lengthAdjust="spacing">15:00</text><text x="554.3" y="1034" textLength="59.5" lengthAdjust="spacing">18:00</text><text x="741.9" y="1034" textLength="59.3" lengthAdjust="spacing">21:00</text><text x="921.1" y="1034" textLength="72.6" lengthAdjust="spacing">22. Jul</text><text x="1235.3" y="1034" textLength="63.5" lengthAdjust="spacing">05:00</text><text x="1420.1" y="1034" textLength="63.6" lengthAdjust="spacing">08:00</text></g>
<!-- navigator -->
<g fill="#D2CDC8"><rect x="270.2" y="1091" width="1.6" height="78.5"/><rect x="576.7" y="1091" width="1.6" height="78.5"/><rect x="884.2" y="1091" width="1.6" height="78.5"/><rect x="1192.7" y="1091" width="1.6" height="78.5"/><rect x="1500.2" y="1091" width="1.6" height="78.5"/></g>
<rect x="1493" y="1091" width="20.5" height="79.5" fill="#5A88E8" fill-opacity="0.35"/>
<g font-size="23.8" fill="#7F7973"><text x="276.3" y="1161.5" textLength="62.4" lengthAdjust="spacing">1. Apr</text><text x="584" y="1161.5" textLength="81" lengthAdjust="spacing">29. Apr</text><text x="892" y="1161.5" textLength="84" lengthAdjust="spacing">27. May</text><text x="1199.3" y="1161.5" textLength="81.1" lengthAdjust="spacing">24. Jun</text><text x="1507" y="1161.5" textLength="73" lengthAdjust="spacing">22. Jul</text></g>
<path d="M20 1164.9 C22.1 1165 28.8 1165.3 32.8 1165.6 C36.8 1165.9 38.3 1166.5 43.8 1166.7 C49.3 1166.9 60.5 1167.7 65.7 1166.7 C70.9 1165.7 71.5 1162.5 74.8 1160.5 C78.1 1158.5 82.4 1155.5 85.8 1154.7 C89.2 1153.9 91.2 1154.9 94.9 1155.8 C98.6 1156.7 103.8 1159.8 107.7 1160.1 C111.7 1160.4 114.9 1157.2 118.6 1157.6 C122.2 1158 125.9 1161.8 129.6 1162.3 C133.2 1162.8 136.6 1161.7 140.5 1160.5 C144.4 1159.3 149.7 1156.1 153.3 1155 C157 1153.9 158.8 1153.7 162.4 1153.9 C166.1 1154.1 170.9 1156.6 175.2 1156.1 C179.5 1155.6 184.1 1152.7 188 1151 C191.9 1149.3 195.6 1146.9 198.9 1145.9 C202.2 1144.9 204.3 1145 208 1144.8 C211.7 1144.6 215.6 1146.1 220.8 1144.8 C226 1143.5 232.7 1136.8 239.1 1136.8 C245.5 1136.8 253.6 1143.7 259.1 1144.8 C264.6 1145.9 267.6 1143.2 271.9 1143.4 C276.2 1143.6 280.8 1146 284.7 1145.9 C288.6 1145.8 290.4 1147.9 295.6 1143 C300.8 1138.1 310.2 1120.8 315.7 1116.4 C321.2 1112 324.6 1116.1 328.5 1116.4 C332.4 1116.7 335.8 1118.5 339.4 1118.2 C343 1117.9 347 1117.1 350.4 1114.5 C353.8 1111.9 356.2 1103.6 359.5 1102.8 C362.8 1102 366.8 1110.3 370.4 1109.4 C374 1108.5 377.8 1097.3 381.4 1097.4 C385 1097.5 388.6 1105.7 392.3 1110.1 C396 1114.5 399.3 1121.9 403.3 1124 C407.3 1126.1 412.5 1125.4 416.1 1122.9 C419.8 1120.4 421.6 1109.3 425.2 1109 C428.8 1108.7 434.4 1118.9 438 1121.1 C441.6 1123.3 443.5 1121.4 447.1 1122.2 C450.8 1123 455.9 1126 459.9 1125.8 C463.8 1125.6 465.3 1122.8 470.8 1121.1 C476.3 1119.4 487.5 1115.2 492.7 1115.6 C497.9 1116 498.5 1122.4 501.8 1123.6 C505.1 1124.8 508.8 1123.6 512.8 1122.9 C516.8 1122.2 521.2 1120 525.5 1119.3 C529.8 1118.6 532.8 1116.7 538.3 1118.5 C543.8 1120.3 552.3 1128.1 558.4 1130.2 C564.5 1132.3 569.5 1130.6 574.6 1131.3 C579.7 1132 584.6 1132.9 589.2 1134.6 C593.8 1136.2 598 1140.9 602 1141.2 C606 1141.5 607.7 1137 612.9 1136.4 C618.1 1135.8 627.2 1137.2 633 1137.5 C638.8 1137.8 641.8 1137.5 647.6 1137.9 C653.4 1138.3 662.5 1138.8 667.7 1140.1 C672.9 1141.4 675 1145.2 678.6 1145.9 C682.2 1146.6 685 1143.8 689.6 1144.1 C694.2 1144.3 700.8 1147 706 1147.4 C711.2 1147.8 715.7 1146.8 720.6 1146.6 C725.5 1146.3 731 1145.4 735.2 1145.9 C739.5 1146.4 742.5 1149 746.1 1149.6 C749.8 1150.1 753.8 1150.5 757.1 1149.2 C760.5 1147.9 762.6 1143.4 766.2 1141.9 C769.9 1140.4 775 1141.1 779 1140.4 C783 1139.7 785.9 1137 789.9 1137.5 C793.9 1138 798.4 1142.5 802.7 1143.7 C807 1144.9 810.9 1144.7 815.5 1144.8 C820.1 1144.9 825.2 1143.8 830.1 1144.1 C835 1144.4 840.8 1146.2 844.7 1146.6 C848.7 1147 850.1 1146.2 853.8 1146.6 C857.4 1147 863 1149.6 866.6 1149.2 C870.2 1148.8 872.4 1144.4 875.7 1144.1 C879 1143.8 879.6 1147 886.6 1147.4 C893.6 1147.8 910.1 1146.2 917.7 1146.6 C925.3 1147 925 1149.3 932.3 1149.6 C939.6 1149.9 954.2 1148.6 961.5 1148.5 C968.8 1148.4 971.9 1149.5 976.1 1149.2 C980.4 1148.9 983.4 1146.8 987 1146.6 C990.6 1146.3 992.8 1146.5 998 1147.7 C1003.2 1148.9 1010.4 1152.9 1018 1153.9 C1025.6 1154.9 1037.2 1153.5 1043.6 1153.9 C1050 1154.3 1051.2 1155.7 1056.4 1156.1 C1061.6 1156.5 1069.8 1155.8 1074.6 1156.1 C1079.4 1156.4 1080 1157.6 1085.5 1158 C1091 1158.4 1101.9 1158.5 1107.4 1158.3 C1112.9 1158.1 1115 1156.6 1118.4 1156.9 C1121.8 1157.2 1122.4 1159.5 1128 1160.2 C1133.6 1160.9 1146.1 1160.5 1151.9 1160.9 C1157.7 1161.3 1159 1162.4 1163 1162.4 C1167 1162.4 1172.1 1161.4 1175.8 1160.9 C1179.5 1160.4 1182.1 1159.2 1185.3 1159.3 C1188.5 1159.4 1191.4 1161.9 1194.9 1161.8 C1198.4 1161.7 1201 1159.1 1206.1 1158.6 C1211.1 1158.1 1219.6 1158.8 1225.2 1158.6 C1230.8 1158.4 1235.8 1156.8 1239.5 1157.7 C1243.2 1158.6 1244 1162.7 1247.5 1164 C1251 1165.3 1255.5 1165.3 1260.3 1165.6 C1265.1 1165.9 1272.2 1165.9 1276.2 1165.6 C1280.2 1165.3 1280.5 1164 1284.2 1164 C1287.9 1164 1293.5 1165.1 1298.5 1165.6 C1303.5 1166.1 1309.2 1167 1314.5 1167.2 C1319.8 1167.4 1323.5 1166.5 1330.4 1166.6 C1337.3 1166.6 1349.3 1167.8 1355.9 1167.5 C1362.5 1167.2 1365.4 1165.2 1370.2 1165 C1375 1164.8 1376.9 1166.2 1384.6 1166.6 C1392.3 1167 1405.9 1167.2 1416.5 1167.2 C1427.1 1167.2 1440.3 1166.5 1448.3 1166.6 C1456.3 1166.7 1456.8 1167.7 1464.3 1167.9 C1471.8 1168.1 1485 1167.8 1493 1167.9 C1501 1168.1 1508.8 1168.7 1512 1168.8" fill="none" stroke="#203963" stroke-width="2.1"/>
<path d="M1493.2 1091 V1170.5 H1513 V1091" fill="none" stroke="#BAB6B1" stroke-width="1.6"/>
<rect x="20" y="1090" width="1494" height="2" fill="#BDB9B4"/>
<g>
<rect x="1485.2" y="1115.2" width="14.3" height="29.3" fill="#EEECE9" stroke="#B5B0AB" stroke-width="1.8"/>
<rect x="1490" y="1122" width="1.6" height="16" fill="#B0ABA6"/><rect x="1494" y="1122" width="1.6" height="16" fill="#B0ABA6"/>
<rect x="1505.2" y="1115.2" width="15.8" height="29.3" fill="#EEECE9" stroke="#B5B0AB" stroke-width="1.8"/>
<rect x="1510.2" y="1122" width="1.6" height="16" fill="#B0ABA6"/><rect x="1514.2" y="1122" width="1.6" height="16" fill="#B0ABA6"/>
</g>
<g fill="#FFFEFA">
<rect x="0" y="0" width="1644" height="2"/>
<rect x="0" y="0" width="2" height="1200"/>
<rect x="1640" y="0" width="4" height="1200"/>
<rect x="0" y="1196" width="1644" height="4"/>
</g>
</svg>
</body></html>
